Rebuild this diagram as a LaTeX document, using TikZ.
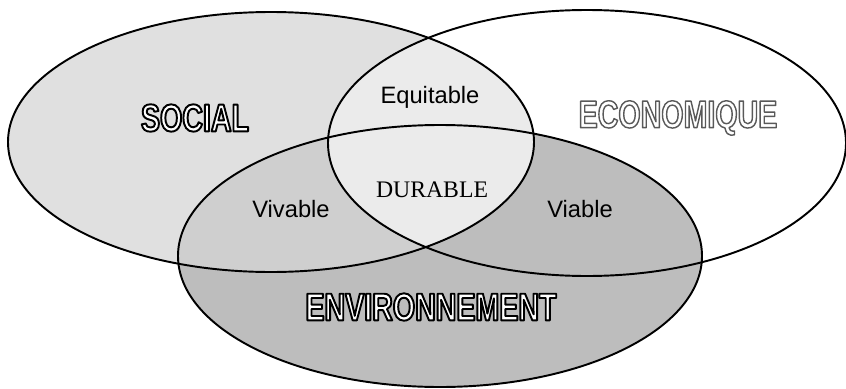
\documentclass[tikz,border=0pt]{standalone}
\usepackage{fontspec}
\setmainfont{Liberation Sans}
\newfontfamily\durfont{Liberation Serif}
\newfontfamily\capfont[FakeStretch=0.74]{Liberation Sans}
% lettres creuses : remplissage blanc, trait autour
\newcommand{\hollowtxt}[3]{{\color{white}\special{pdf:literal direct #1 G #2 w 1 j 2 Tr}#3\special{pdf:literal direct 0 Tr}}}

\begin{document}
\begin{tikzpicture}[
      x=0.02cm,y=-0.02cm,
      zone/.style={draw=black,line width=1.1pt},
      lbl/.style={inner sep=0pt,font=\fontsize{13.5}{15}\selectfont},
      big/.style={inner sep=0pt,font=\capfont\bfseries\fontsize{22}{24}\selectfont}]
      \useasboundingbox (0,0) rectangle (846,389);
      \def\socialpath{(271,142) ellipse [x radius=263, y radius=130]}
      \def\ecopath{(587,143) ellipse [x radius=259, y radius=133]}
      \def\envpath{(440,256) ellipse [x radius=262, y radius=131]}
      % fonds
      \fill[white] \ecopath;
      \fill[gray!24] \socialpath;
      \begin{scope}
        \clip \socialpath;
        \fill[gray!16] \ecopath;
      \end{scope}
      \fill[gray!52] \envpath;
      \begin{scope}
        \clip \socialpath;
        \fill[gray!38] \envpath;
        \clip \ecopath;
        \fill[gray!16] \envpath;
      \end{scope}
      % contours
      \draw[zone] \socialpath;
      \draw[zone] \ecopath;
      \draw[zone] \envpath;
      \node[big] (social) at (195,118) {\hollowtxt{0}{1.1}{SOCIAL}};
      \node[big] (eco) at (678,118) {\hollowtxt{0.35}{0.8}{ECONOMIQUE}};
      \node[big] (env) at (431,307) {\hollowtxt{0}{1.1}{ENVIRONNEMENT}};
      \node[lbl] (equi) at (430,97) {Equitable};
      \node[lbl,font=\durfont\fontsize{13.5}{15}\selectfont] (dur) at (432,190) {DURABLE};
      \node[lbl] (viv) at (291,209) {Vivable};
      \node[lbl] (via) at (580,209) {Viable};
    \end{tikzpicture}
\end{document}
